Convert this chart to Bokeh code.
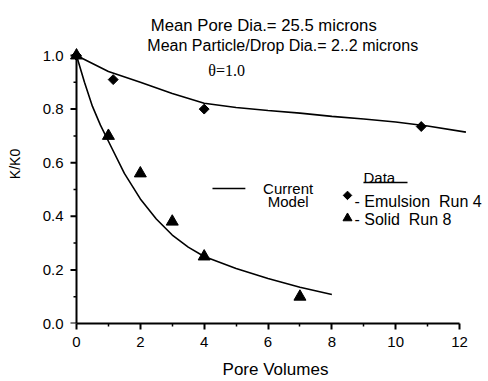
from bokeh.plotting import figure
from bokeh.models import Label, PrintfTickFormatter, FixedTicker, Range1d
from bokeh.embed import file_html
from bokeh.resources import INLINE

# Measured data
emulsion_x = [0.0, 1.15, 4.0, 10.8]
emulsion_y = [1.0, 0.91, 0.80, 0.735]

solid_x = [0.0, 1.0, 2.0, 3.0, 4.0, 7.0]
solid_y = [1.0, 0.70, 0.56, 0.38, 0.25, 0.10]

# Model predictions ("Current Model")
model_emulsion_x = [0, 1, 2, 3, 4, 5, 6, 7, 8, 9, 10, 11, 12.2]
model_emulsion_y = [1.0, 0.94, 0.90, 0.858, 0.822, 0.806, 0.795, 0.785,
                    0.773, 0.763, 0.752, 0.737, 0.714]

model_solid_x = [0, 0.25, 0.5, 0.75, 1, 1.5, 2, 2.5, 3, 3.5, 4, 5, 6, 7, 8]
model_solid_y = [1.0, 0.90, 0.81, 0.74, 0.68, 0.56, 0.465, 0.39, 0.33,
                 0.285, 0.25, 0.205, 0.168, 0.135, 0.108]

x_ticks = [0, 2, 4, 6, 8, 10, 12]
x_minor = [1, 3, 5, 7, 9, 11]
y_ticks = [0.0, 0.2, 0.4, 0.6, 0.8, 1.0]
y_minor = [0.1, 0.3, 0.5, 0.7, 0.9]

FONT = "Liberation Sans"
NBSP = "\u00a0"
W, H = 488, 381
BL, BR, BT, BB = 66, 4, 4, 58
X0_PX, X_SCALE = 76, 31.92      # pixel of x=0, pixels per unit
Y_SCALE = 268                   # pixels per unit of K/K0

x_range = Range1d(-(X0_PX - BL) / X_SCALE, (W - BR - X0_PX) / X_SCALE)
y_range = Range1d(0, (H - BB - BT) / Y_SCALE)

p = figure(width=W, height=H, x_range=x_range, y_range=y_range,
           output_backend="svg", toolbar_location=None,
           min_border_left=BL, min_border_right=BR,
           min_border_top=BT, min_border_bottom=BB)
p.outline_line_color = None
p.grid.visible = False
p.background_fill_color = "white"

for ax in (p.xaxis[0], p.yaxis[0]):
    ax.axis_line_width = 2
    ax.axis_line_color = "black"
    ax.major_tick_line_width = 2
    ax.major_tick_line_color = "black"
    ax.minor_tick_line_width = 1.5
    ax.minor_tick_line_color = "black"
    ax.major_tick_in = 0
    ax.major_tick_out = 6
    ax.minor_tick_in = 0
    ax.minor_tick_out = 3
    ax.major_label_text_font = FONT
    ax.major_label_text_font_size = "15px"
    ax.major_label_text_color = "black"
    ax.axis_label_text_font = FONT
    ax.axis_label_text_font_style = "normal"
    ax.axis_label_text_color = "black"

p.xaxis.ticker = FixedTicker(ticks=x_ticks, minor_ticks=x_minor)
p.xaxis.bounds = (0, 12)
p.xaxis.axis_label = "Pore Volumes"
p.xaxis.axis_label_text_font_size = "17px"
p.xaxis.major_label_standoff = 7
p.xaxis.axis_label_standoff = 10

# The vertical axis keeps its labels at the frame edge; its line and tick
# marks are drawn at x = 0 below so the K/K0 = 1 points are not cut off.
p.yaxis.ticker = FixedTicker(ticks=y_ticks, minor_ticks=y_minor)
p.yaxis.formatter = PrintfTickFormatter(format="%.1f")
p.yaxis.bounds = (0, 1.08)
p.yaxis.axis_line_color = None
p.yaxis.major_tick_line_color = None
p.yaxis.minor_tick_line_color = None
p.yaxis.major_tick_out = 0
p.yaxis.minor_tick_out = 0
p.yaxis.major_label_standoff = 3
p.yaxis.axis_label = "K/K0"
p.yaxis.axis_label_text_font_size = "14px"
p.yaxis.axis_label_standoff = 17

px_x = 1.0 / X_SCALE   # one pixel in x data units
p.segment(x0=[0], y0=[y_ticks[0]], x1=[0], y1=[y_ticks[-1]],
          line_color="black", line_width=2)
p.segment(x0=[-6 * px_x] * len(y_ticks), y0=y_ticks,
          x1=[0] * len(y_ticks), y1=y_ticks,
          line_color="black", line_width=2)
p.segment(x0=[-3 * px_x] * len(y_minor), y0=y_minor,
          x1=[0] * len(y_minor), y1=y_minor,
          line_color="black", line_width=1.5)

# model curves
p.line(model_emulsion_x, model_emulsion_y, line_color="black", line_width=1.6)
p.line(model_solid_x, model_solid_y, line_color="black", line_width=1.6)

# data points
p.scatter(emulsion_x, emulsion_y, marker="square", angle=0.785398,
          size=7, fill_color="black", line_color="black")
p.scatter(solid_x, solid_y, marker="triangle", size=12,
          fill_color="black", line_color="black")

# text annotations
def add_text(x, y, text, size="16px", font=FONT, align="left"):
    p.add_layout(Label(x=x, y=y, text=text, text_font=font,
                       text_font_size=size, text_color="black",
                       text_align=align, text_baseline="alphabetic"))

add_text(2.33, 1.112, "Mean Pore Dia.= 25.5 microns", size="16.7px")
add_text(2.22, 1.037, "Mean Particle/Drop Dia.= 2..2 microns", size="16px")
add_text(4.13, 0.944, "\u03b8=1.0", size="16px", font="Liberation Serif")

# key
p.line([4.26, 5.29], [0.504, 0.504], line_color="black", line_width=1.6)
add_text(6.63, 0.504, "Current", size="15px", align="center")
add_text(6.63, 0.455, "Model", size="15px", align="center")

add_text(8.99, 0.545, "Data", size="15px")
p.line([8.99, 10.37], [0.526, 0.526], line_color="black", line_width=1.5)
p.scatter([8.49], [0.478], marker="square", angle=0.785398, size=6,
          fill_color="black", line_color="black")
add_text(8.71, 0.455, "-" + NBSP + "Emulsion" + NBSP * 2 + "Run" + NBSP + "4",
         size="16px")
p.scatter([8.49], [0.393], marker="triangle", size=9,
          fill_color="black", line_color="black")
add_text(8.71, 0.388, "-" + NBSP + "Solid" + NBSP * 2 + "Run" + NBSP + "8",
         size="16px")

open("out.html", "w").write(file_html(p, INLINE))
